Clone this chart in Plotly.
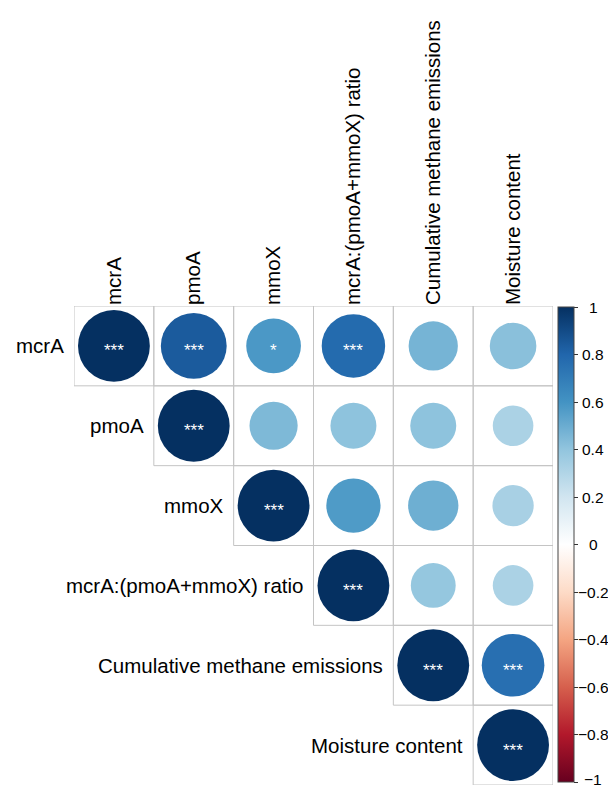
import plotly.graph_objects as go
import numpy as np

variables = ["mcrA", "pmoA", "mmoX", "mcrA:(pmoA+mmoX) ratio",
             "Cumulative methane emissions", "Moisture content"]

# upper-triangle correlation rows (row i starts at column i)
corr_mcrA = [1.00, 0.84, 0.58, 0.78, 0.47, 0.42]
corr_pmoA = [1.00, 0.45, 0.41, 0.41, 0.32]
corr_mmoX = [1.00, 0.57, 0.49, 0.33]
corr_ratio = [1.00, 0.39, 0.32]
corr_cum = [1.00, 0.76]
corr_moist = [1.00]

sig_mcrA = ["***", "***", "*", "***", "", ""]
sig_pmoA = ["***", "", "", "", ""]
sig_mmoX = ["***", "", "", ""]
sig_ratio = ["***", "", ""]
sig_cum = ["***", "***"]
sig_moist = ["***"]

cb_ticks = [-1, -0.8, -0.6, -0.4, -0.2, 0, 0.2, 0.4, 0.6, 0.8, 1]
cb_labels = ["\u22121", "\u22120.8", "\u22120.6", "\u22120.4", "\u22120.2", "0",
             "0.2", "0.4", "0.6", "0.8", "1"]

rows = [corr_mcrA, corr_pmoA, corr_mmoX, corr_ratio, corr_cum, corr_moist]
sigs = [sig_mcrA, sig_pmoA, sig_mmoX, sig_ratio, sig_cum, sig_moist]

rdbu = ["#67001F", "#B2182B", "#D6604D", "#F4A582", "#FDDBC7", "#FFFFFF",
        "#D1E5F0", "#92C5DE", "#4393C3", "#2166AC", "#053061"]
colorscale = [[k / 10, c] for k, c in enumerate(rdbu)]

FONT = "Liberation Sans, Arial, sans-serif"
n = len(variables)
W, H = 608, 787
L, T, B = 74, 306, 2
grid_px = H - T - B
R = W - L - grid_px
cell_px = grid_px / n
max_d = 0.9 * cell_px

xs, ys, vals, sizes = [], [], [], []
for i, row in enumerate(rows):
    for k, v in enumerate(row):
        j = i + k
        xs.append(j)
        ys.append(i)
        vals.append(v)
        sizes.append(max_d * np.sqrt(abs(v)))

# colour bar geometry (slightly inset from the grid, as in the reference)
cb_bottom = 3 / grid_px
cb_top = 1 - 1 / grid_px
cb_len = cb_top - cb_bottom
cb_x = 1 + 5 / grid_px

fig = go.Figure()
fig.add_trace(go.Scatter(
    x=xs, y=ys, mode="markers",
    marker=dict(size=sizes, sizemode="diameter", color=vals,
                colorscale=colorscale, cmin=-1, cmax=1,
                opacity=1, line=dict(width=0),
                showscale=True,
                colorbar=dict(thickness=16, len=cb_len, lenmode="fraction",
                              x=cb_x, xanchor="left", xpad=0,
                              y=cb_bottom, yanchor="bottom", ypad=0,
                              outlinewidth=1, outlinecolor="#444444",
                              tickvals=cb_ticks, ticks="outside",
                              ticklen=4, tickcolor="#333333",
                              showticklabels=False)),
    hoverinfo="skip", showlegend=False))

shapes = []
annotations = []
for i, row in enumerate(rows):
    for k in range(len(row)):
        j = i + k
        shapes.append(dict(type="rect", xref="x", yref="y",
                           x0=j - 0.5, x1=j + 0.5, y0=i - 0.5, y1=i + 0.5,
                           line=dict(color="#C4C4C4", width=1),
                           fillcolor="rgba(0,0,0,0)", layer="below"))
        s = sigs[i][k]
        if s:
            annotations.append(dict(x=j, y=i, xref="x", yref="y", text=s,
                                    showarrow=False, yshift=-5,
                                    font=dict(family=FONT, size=17, color="white")))
    annotations.append(dict(x=i - 0.5, y=i, xref="x", yref="y", text=variables[i],
                            showarrow=False, xanchor="right", xshift=-8,
                            font=dict(family=FONT, size=20.5, color="black")))

# colour-bar labels, centred like the reference
label_x = 1 + 40 / grid_px
for v, t in zip(cb_ticks, cb_labels):
    annotations.append(dict(x=label_x, y=cb_bottom + (v + 1) / 2 * cb_len,
                            xref="paper", yref="paper",
                            text=t, showarrow=False, xanchor="center",
                            yanchor="middle", yshift=3 if v == -1 else 0,
                            font=dict(family=FONT, size=15.5, color="black")))

fig.update_layout(
    width=W, height=H,
    margin=dict(l=L, r=R, t=T, b=B),
    paper_bgcolor="white", plot_bgcolor="white",
    shapes=shapes, annotations=annotations,
    xaxis=dict(range=[-0.5, n - 0.5], side="top", tickmode="array",
               tickvals=list(range(n)), ticktext=variables, tickangle=-90,
               showgrid=False, zeroline=False, showline=False, ticks="",
               tickfont=dict(family=FONT, size=20.5, color="black")),
    yaxis=dict(range=[n - 0.5, -0.5], showgrid=False, zeroline=False,
               showline=False, showticklabels=False, ticks=""),
)

# remove the browser's default 8px body margin so the figure fills the window exactly
fig.write_html("out.html", config={"displayModeBar": False},
               post_script="document.body.style.margin='0';document.body.style.overflow='hidden';")
